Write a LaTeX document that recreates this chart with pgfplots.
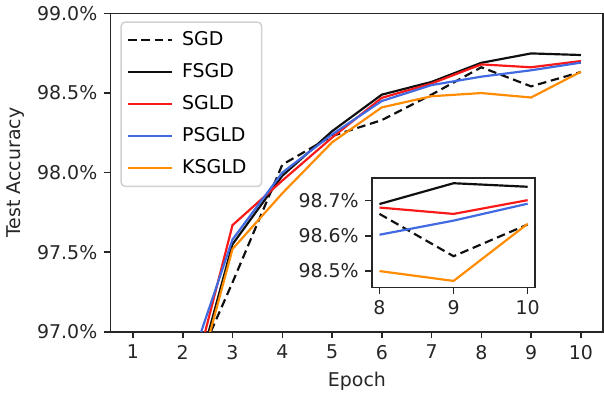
\documentclass[border=0pt]{standalone}
\usepackage{fontspec}
\setmainfont{DejaVu Sans}
\usepackage{pgfplots}
\usepackage{pgfplotstable}
\pgfplotsset{compat=1.18}
\definecolor{cred}{RGB}{250,25,25}
\definecolor{cblue}{RGB}{65,105,225}
\definecolor{corange}{RGB}{255,140,0}
\definecolor{cblack}{RGB}{15,15,15}
\definecolor{cax}{RGB}{38,38,38}
\pgfplotstableread{
ep sgd fsgd sgld psgld ksgld
1 95.50 95.30 95.40 95.60 95.20
2 96.60 96.40 96.45 96.66 96.36
3 97.31 97.55 97.67 97.58 97.52
4 98.05 97.98 97.95 98.00 97.87
5 98.23 98.26 98.22 98.24 98.19
6 98.33 98.49 98.47 98.45 98.41
7 98.49 98.57 98.56 98.55 98.48
8 98.662 98.690 98.680 98.603 98.500
9 98.542 98.749 98.662 98.643 98.472
10 98.632 98.739 98.701 98.691 98.634
}\data
\begin{document}
\begin{tikzpicture}
\pgfplotsset{common/.style={
  scale only axis,
  axis line style={line width=0.8pt, color=cax},
  tick style={line width=0.8pt, color=cax},
  tick align=outside,
  major tick length=3.5pt,
  xtick pos=bottom, ytick pos=left,
  /pgf/number format/assume math mode=true,
  tick label style={font=\fontsize{10}{12}\selectfont, text=cax},
  label style={font=\fontsize{10}{12}\selectfont, text=cax},
  yticklabel={\pgfmathprintnumber[fixed,fixed zerofill,precision=1]{\tick}\%},
  every axis plot/.append style={line width=1.15pt},
}}
\begin{axis}[common,
  width=260pt, height=168pt,
  xmin=0.55, xmax=10.45, ymin=97, ymax=99,
  xtick={1,2,3,4,5,6,7,8,9,10},
  ytick={97,97.5,98,98.5,99},
  xlabel={Epoch}, ylabel={Test Accuracy},
  legend style={at={(0.02,0.975)}, anchor=north west, draw=black!18, line width=0.8pt,
    rounded corners=2pt, font=\fontsize{10}{12}\selectfont, row sep=4pt, inner sep=3pt,
    nodes={inner xsep=5pt}},
  legend cell align=left,
  legend image code/.code={\draw[#1] (0pt,0pt) -- (23pt,0pt);},
]
\addplot[cblack, dash pattern=on 4.5pt off 2.5pt] table[x=ep,y=sgd]{\data};
\addlegendentry{SGD}
\addplot[cblack] table[x=ep,y=fsgd]{\data};
\addlegendentry{FSGD}
\addplot[cred] table[x=ep,y=sgld]{\data};
\addlegendentry{SGLD}
\addplot[cblue] table[x=ep,y=psgld]{\data};
\addlegendentry{PSGLD}
\addplot[corange] table[x=ep,y=ksgld]{\data};
\addlegendentry{KSGLD}
\end{axis}
\begin{axis}[common,
  at={(138pt,81.2pt)}, anchor=north west,
  width=86pt, height=57.7pt,
  xmin=7.9, xmax=10.1, ymin=98.454, ymax=98.764,
  xtick={8,9,10}, ytick={98.5,98.6,98.7},
  axis background/.style={fill=white},
  restrict x to domain=7.99:10.01,
]
\addplot[cblack, dash pattern=on 4.5pt off 2.5pt] table[x=ep,y=sgd]{\data};
\addplot[cblack] table[x=ep,y=fsgd]{\data};
\addplot[cred] table[x=ep,y=sgld]{\data};
\addplot[cblue] table[x=ep,y=psgld]{\data};
\addplot[corange] table[x=ep,y=ksgld]{\data};
\end{axis}
\end{tikzpicture}
\end{document}
